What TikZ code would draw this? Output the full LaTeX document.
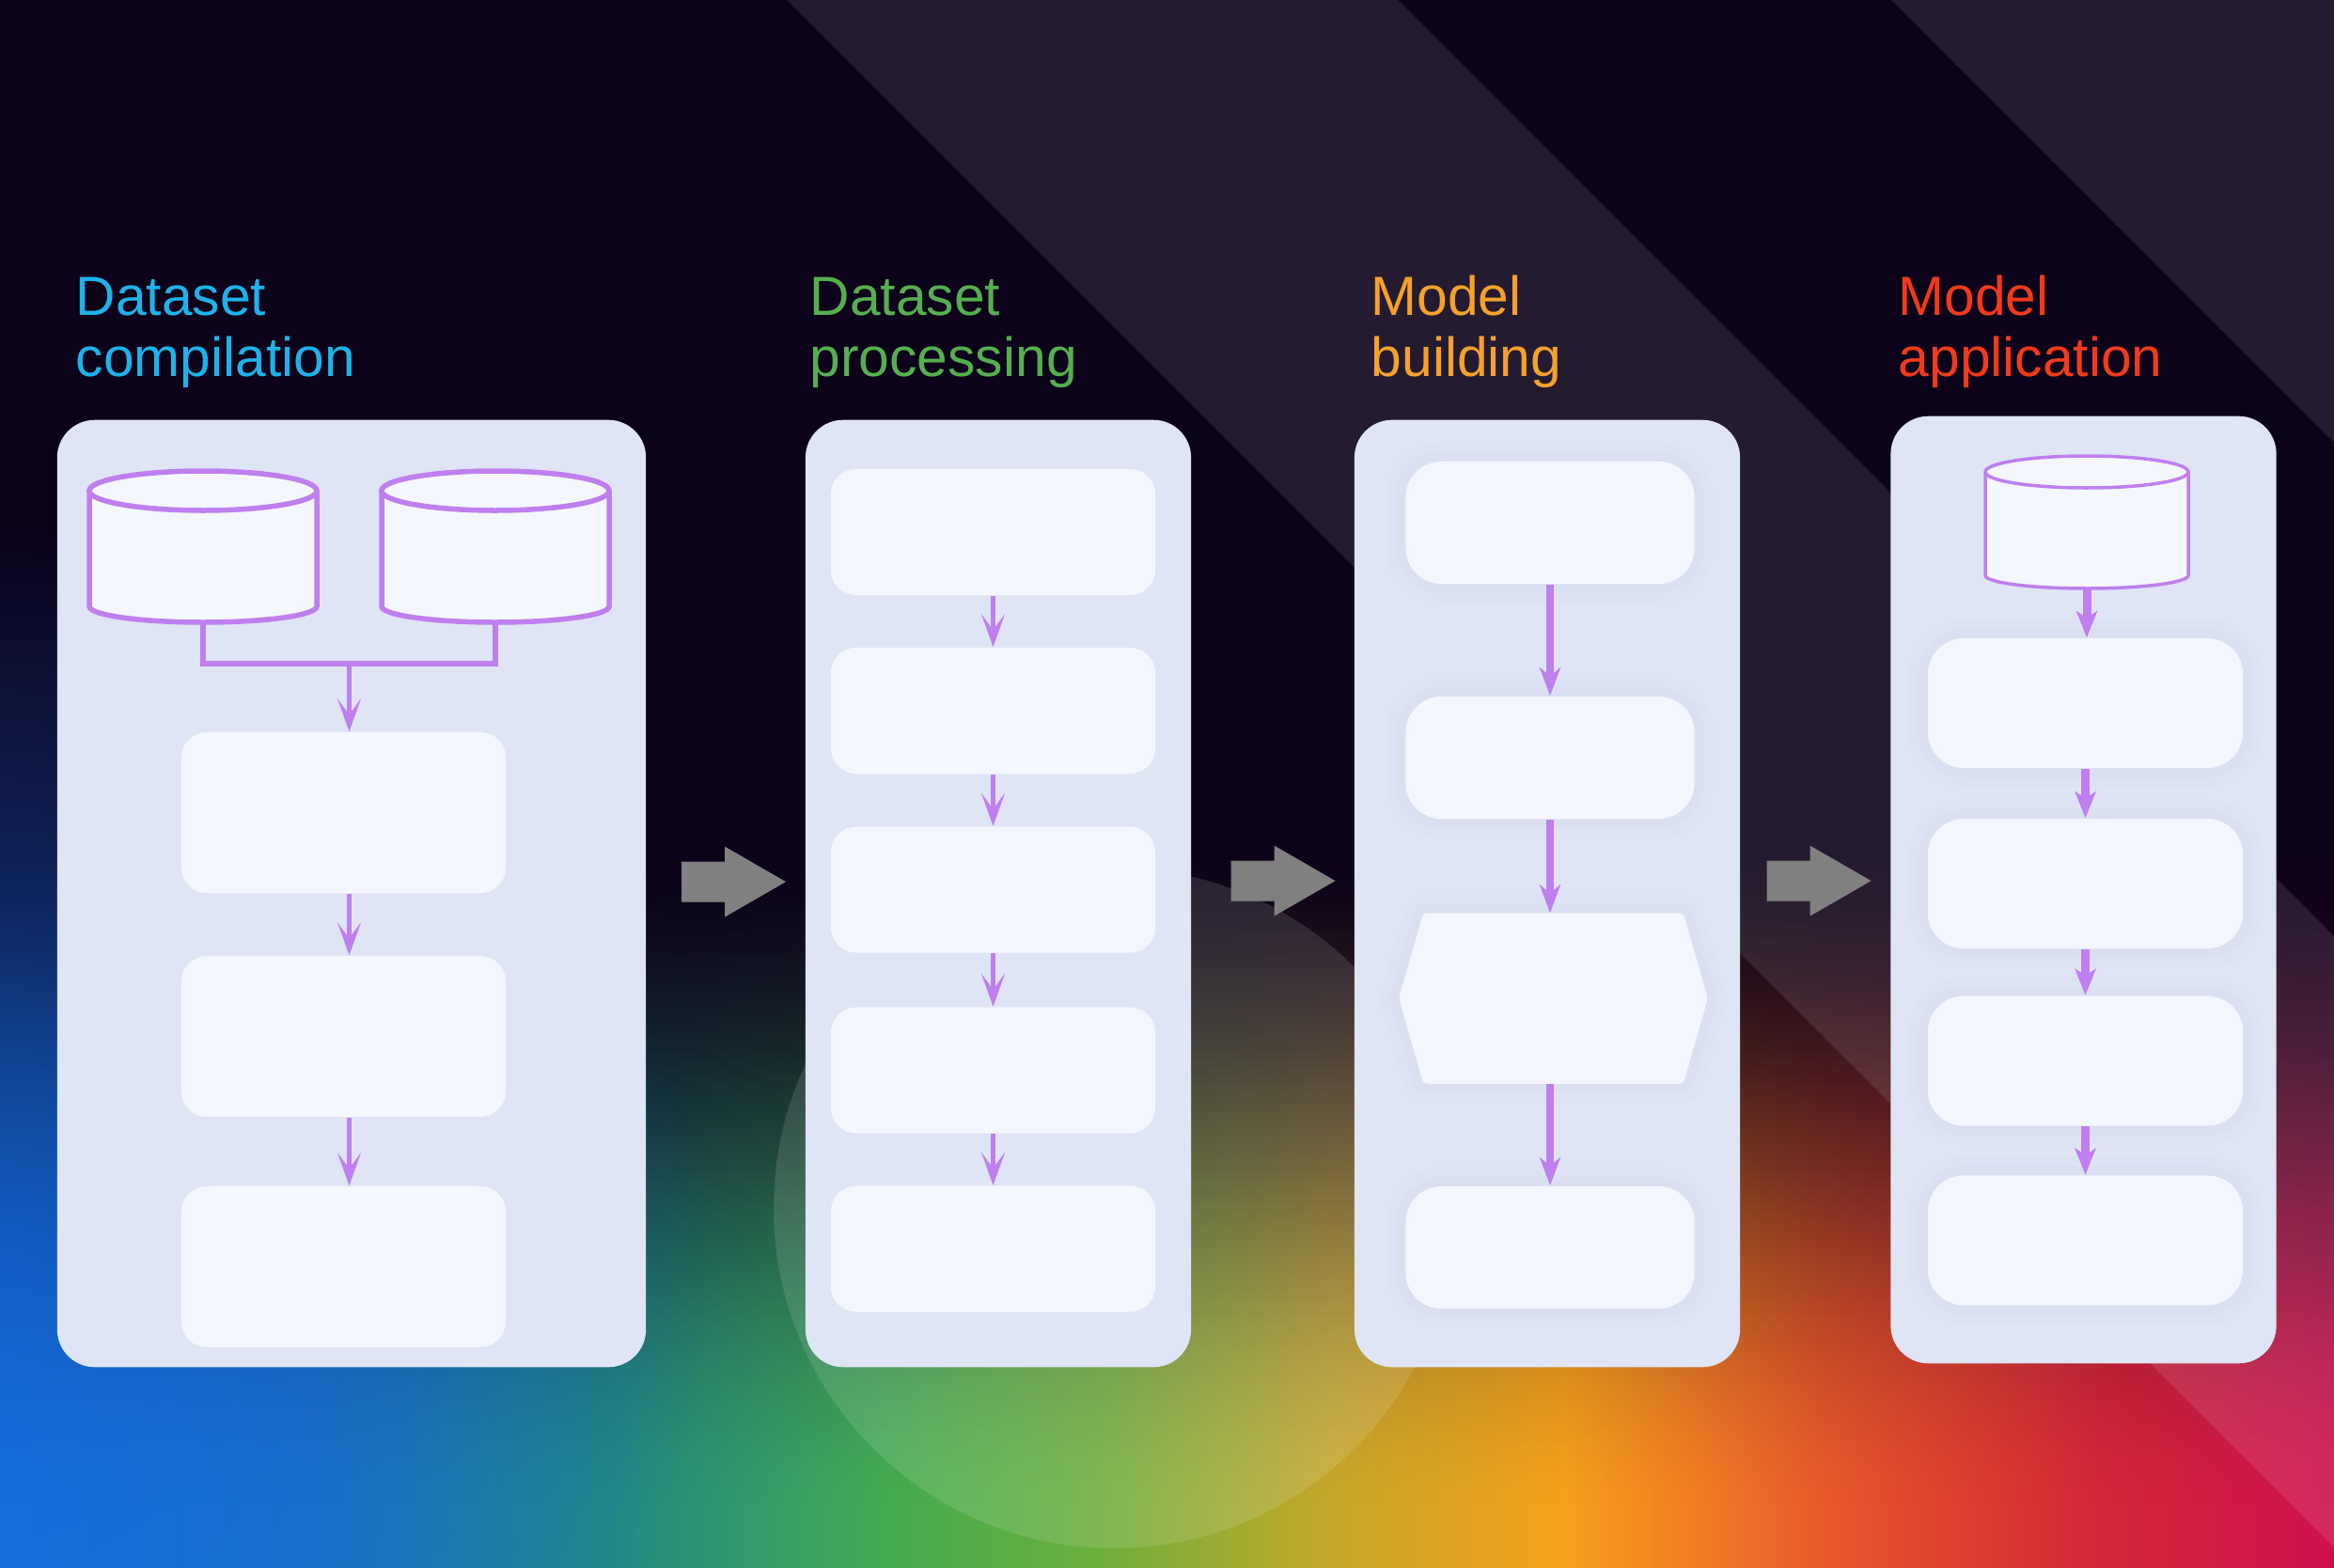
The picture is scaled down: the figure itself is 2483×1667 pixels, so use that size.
\documentclass[tikz,border=0pt]{standalone}
\usepackage{fontspec}
\setmainfont{Liberation Sans}
\usetikzlibrary{arrows.meta,fadings}
\definecolor{bgdark}{HTML}{0C0219}
\definecolor{panelc}{HTML}{DFE5F5}
\definecolor{boxc}{HTML}{F4F7FD}
\definecolor{haloc}{HTML}{C3CDEA}
\definecolor{purp}{HTML}{BF7FEE}
\definecolor{tcyan}{HTML}{1DB3EA}
\definecolor{tgreen}{HTML}{55AF4F}
\definecolor{torange}{HTML}{F6A12B}
\definecolor{tred}{HTML}{F23A1B}
\definecolor{garrowc}{HTML}{808080}
\definecolor{glowblue}{HTML}{1464D6}
\definecolor{r0}{HTML}{1478E2}
\definecolor{r1}{HTML}{1A76C4}
\definecolor{r2}{HTML}{228A86}
\definecolor{r3}{HTML}{44AB52}
\definecolor{r4}{HTML}{6CAE3A}
\definecolor{r5}{HTML}{C6A82A}
\definecolor{r6}{HTML}{F7A01C}
\definecolor{r7}{HTML}{E85A2A}
\definecolor{r8}{HTML}{D42638}
\definecolor{r9}{HTML}{D0104E}
\pgfdeclarehorizontalshading{rainbow}{100bp}{color(0bp)=(r0); color(25bp)=(r0); color(32bp)=(r1); color(38bp)=(r2); color(44bp)=(r3); color(48.5bp)=(r4); color(53.5bp)=(r5); color(58.5bp)=(r6); color(64bp)=(r7); color(70bp)=(r8); color(75bp)=(r9); color(100bp)=(r9)}
\tikzfading[name=glowfade, inner color=transparent!30, outer color=transparent!100]
\newcommand\cylshape[7]{%
  \fill[boxc] (#1-#3,#2) -- (#1-#3,#5) arc[start angle=180,end angle=0,x radius=#3,y radius=#6] -- (#1+#3,#2) -- cycle;
  \draw[purp, line width=#7] (#1-#3,#2) -- (#1-#3,#5) arc[start angle=180,end angle=0,x radius=#3,y radius=#6] -- (#1+#3,#2);
  \filldraw[fill=boxc, draw=purp, line width=#7] (#1,#2) ellipse [x radius=#3, y radius=#4];
}
\begin{document}
\begin{tikzpicture}[x=0.01cm, y=-0.01cm,
  panel/.style={rectangle, rounded corners=0.4cm, fill=panelc, inner sep=0, minimum width=4.10cm, minimum height=10.07cm},
  ghost/.style={rectangle, inner sep=0},
  boxa/.style={rectangle, rounded corners=0.27cm, fill=boxc, inner sep=0, minimum width=3.45cm, minimum height=1.71cm},
  boxb/.style={rectangle, rounded corners=0.27cm, fill=boxc, inner sep=0, minimum width=3.45cm, minimum height=1.34cm},
  halo/.style={preaction={draw=haloc, line width=0.40cm, draw opacity=0.07}, preaction={draw=haloc, line width=0.20cm, draw opacity=0.10}},
  boxc3/.style={rectangle, rounded corners=0.38cm, fill=boxc, inner sep=0, minimum width=3.07cm, minimum height=1.30cm, halo},
  boxd/.style={rectangle, rounded corners=0.38cm, fill=boxc, inner sep=0, minimum width=3.35cm, minimum height=1.38cm, halo},
  link/.style={draw=purp, line width=0.055cm},
  flowa/.style={draw=purp, line width=0.055cm, -{Stealth[length=0.35cm, width=0.25cm, inset=0.17cm]}},
  flowc/.style={draw=purp, line width=0.075cm, -{Stealth[length=0.30cm, width=0.22cm, inset=0.09cm]}},
  flowd/.style={draw=purp, line width=0.09cm, -{Stealth[length=0.28cm, width=0.22cm, inset=0.07cm]}},
  title/.style={anchor=base west, inner sep=0, font=\fontsize{16.7pt}{20pt}\selectfont},
  bigarrow/.style={fill=garrowc}
]
\useasboundingbox (0,0) rectangle (2483,1667);
% background
\fill[bgdark] (0,0) rectangle (2483,1667);
\fill[shading=rainbow] (0,880) rectangle (2483,1667);
\foreach \i in {0,...,99}{
  \pgfmathsetmacro\yy{880+8*\i}
  \pgfmathsetmacro\tt{max(0,min(1,(\yy+4-880)/740))}
  \pgfmathsetmacro\oo{max(0,min(1,1-(3*\tt*\tt-2*\tt*\tt*\tt)))}
  \fill[bgdark, opacity=\oo] (0,\yy) rectangle (2483,\yy+8);
}
\fill[glowblue, path fading=glowfade] (0,1350) ellipse [x radius=750, y radius=800];
\fill[white, opacity=0.1] (837,0) -- (1487,0) -- (2483,996) -- (2483,1646) -- cycle;
\fill[white, opacity=0.1] (2012,0) -- (2483,0) -- (2483,471) -- cycle;
\fill[white, opacity=0.12] (1185,1285) circle [radius=362];

% titles
\node[title, tcyan] (t1a) at (80,335) {Dataset};
\node[title, tcyan] (t1b) at (80,400) {compilation};
\node[title, tgreen] (t2a) at (861,335) {Dataset};
\node[title, tgreen] (t2b) at (861,400) {processing};
\node[title, torange] (t3a) at (1458,335) {Model};
\node[title, torange] (t3b) at (1458,400) {building};
\node[title, tred] (t4a) at (2019,335) {Model};
\node[title, tred] (t4b) at (2019,400) {application};

% panels
\node[panel, minimum width=6.26cm] (p1) at (374,950.5) {};
\node[panel] (p2) at (1062,950.5) {};
\node[panel] (p3) at (1646,950.5) {};
\node[panel] (p4) at (2216.5,946.5) {};

% panel 1
\cylshape{216}{522}{121}{21}{645}{17}{0.055cm}
\cylshape{527}{522}{121}{21}{645}{17}{0.055cm}
\node[ghost, minimum width=2.42cm, minimum height=1.61cm] (cylA) at (216,581.5) {};
\node[ghost, minimum width=2.42cm, minimum height=1.61cm] (cylB) at (527,581.5) {};
\coordinate (jn) at (371.5,706);
\node[boxa] (b11) at (365.5,864.5) {};
\node[boxa] (b12) at (365.5,1102.5) {};
\node[boxa] (b13) at (365.5,1347.5) {};
\draw[link] (cylA.south) |- (jn) -| (cylB.south);
\draw[flowa] (jn) -- (jn |- b11.north);
\draw[flowa] (b11.south -| jn) -- (b12.north -| jn);
\draw[flowa] (b12.south -| jn) -- (b13.north -| jn);

% panel 2
\node[boxb] (b21) at (1056.5,566) {};
\node[boxb] (b22) at (1056.5,756) {};
\node[boxb] (b23) at (1056.5,946.5) {};
\node[boxb] (b24) at (1056.5,1138.5) {};
\node[boxb] (b25) at (1056.5,1328.5) {};
\draw[flowa] (b21) -- (b22);
\draw[flowa] (b22) -- (b23);
\draw[flowa] (b23) -- (b24);
\draw[flowa] (b24) -- (b25);

% panel 3
\node[boxc3] (b31) at (1649,556) {};
\node[boxc3] (b32) at (1649,806) {};
\node[ghost, minimum width=3.27cm, minimum height=1.80cm] (m33) at (1652.5,1062) {};
\fill[boxc, rounded corners=0.04cm, halo] ([xshift=0.26cm]m33.north west) -- ([xshift=-0.26cm]m33.north east) -- (m33.east) -- ([xshift=-0.26cm]m33.south east) -- ([xshift=0.26cm]m33.south west) -- (m33.west) -- cycle;
\node[boxc3] (b34) at (1649,1327) {};
\draw[flowc] (b31) -- (b32);
\draw[flowc] (b32.south) -- (b32.south |- m33.north);
\draw[flowc] (b34.north |- m33.south) -- (b34.north);

% panel 4
\cylshape{2220}{502}{108}{17}{612}{14}{0.035cm}
\node[ghost, minimum width=2.16cm, minimum height=1.42cm] (cylC) at (2220,555) {};
\node[boxd] (b41) at (2218.5,748) {};
\node[boxd] (b42) at (2218.5,940) {};
\node[boxd] (b43) at (2218.5,1128.5) {};
\node[boxd] (b44) at (2218.5,1319.5) {};
\draw[flowd] (cylC.south) -- (cylC.south |- b41.north);
\draw[flowd] (b41) -- (b42);
\draw[flowd] (b42) -- (b43);
\draw[flowd] (b43) -- (b44);

% arrows between stages
\coordinate (g1) at (780.5,938);
\coordinate (g2) at (1365,937);
\coordinate (g3) at (1935,937);
\foreach \g in {g1,g2,g3}{
  \fill[bigarrow] (\g) ++(-55.5,-21.5) -- ++(46,0) -- ++(0,-16) -- ++(65,37.5) -- ++(-65,37.5) -- ++(0,-16) -- ++(-46,0) -- cycle;
}
\end{tikzpicture}
\end{document}
